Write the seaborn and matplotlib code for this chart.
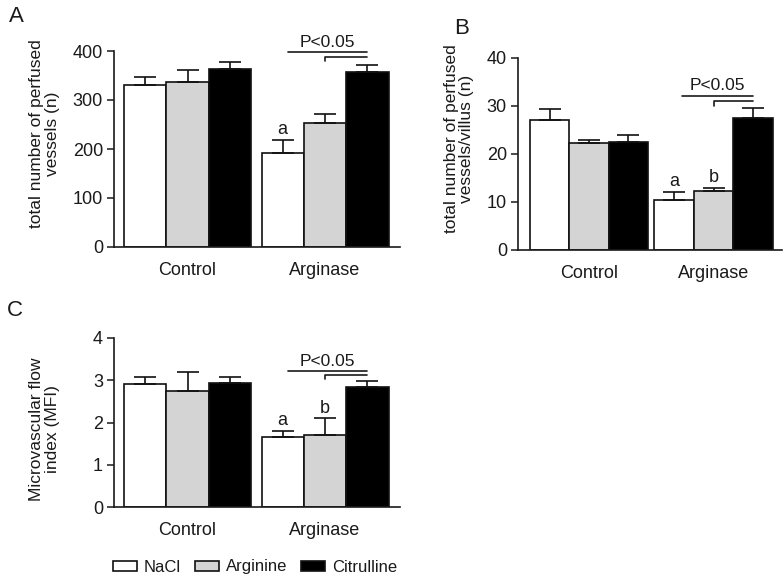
import matplotlib
matplotlib.use("Agg")
import matplotlib.pyplot as plt
import seaborn as sns
import pandas as pd
import numpy as np

groups = ["Control", "Arginase"]
treatments = ["NaCl", "Arginine", "Citrulline"]
colors = ["#ffffff", "#d4d4d4", "#000000"]

# Panel A: total number of perfused vessels (n)
a_mean_control = [331, 336, 363]
a_mean_arginase = [191, 254, 357]
a_sem_control = [15, 26, 15]
a_sem_arginase = [27, 17, 15]

# Panel B: total number of perfused vessels/villus (n)
b_mean_control = [27.1, 22.2, 22.4]
b_mean_arginase = [10.5, 12.2, 27.4]
b_sem_control = [2.3, 0.7, 1.5]
b_sem_arginase = [1.6, 0.8, 2.2]

# Panel C: Microvascular flow index (MFI)
c_mean_control = [2.92, 2.75, 2.93]
c_mean_arginase = [1.66, 1.70, 2.84]
c_sem_control = [0.15, 0.44, 0.14]
c_sem_arginase = [0.15, 0.40, 0.15]

a_ticks = [0, 100, 200, 300, 400]
b_ticks = [0, 10, 20, 30, 40]
c_ticks = [0, 1, 2, 3, 4]

sns.set_style("ticks")
plt.rcParams["font.family"] = ["Liberation Sans", "DejaVu Sans"]
plt.rcParams["text.color"] = "#1a1a1a"
plt.rcParams["axes.labelcolor"] = "#1a1a1a"
plt.rcParams["xtick.color"] = "#1a1a1a"
plt.rcParams["ytick.color"] = "#1a1a1a"

W, H = 783, 577
fig = plt.figure(figsize=(W / 100, H / 100), dpi=100)


def px_axes(l, r, b, t):
    return fig.add_axes([l / W, 1 - b / H, (r - l) / W, (b - t) / H])


def make_df(mc, ma, sc, sa):
    rows = []
    for g, m, s in (("Control", mc, sc), ("Arginase", ma, sa)):
        for t, mv, sv in zip(treatments, m, s):
            rows.append({"group": g, "treatment": t, "mean": mv, "sem": sv})
    return pd.DataFrame(rows)


def draw_panel(ax, df, ticks, ylabel, xlim, width, labelx, labely,
               letters, sig, legend=False):
    sns.barplot(data=df, x="group", y="mean", hue="treatment",
                order=groups, hue_order=treatments, palette=colors,
                edgecolor="#111111", linewidth=1.2, width=width, gap=0,
                errorbar=None, ax=ax, legend=legend, saturation=1)
    centers = {}
    for cont, t in zip(ax.containers, treatments):
        for patch, g in zip(cont.patches, groups):
            cx = patch.get_x() + patch.get_width() / 2
            h = patch.get_height()
            centers[(g, t)] = (cx, h)
            s = df[(df.group == g) & (df.treatment == t)]["sem"].iloc[0]
            ax.errorbar([cx], [h], yerr=[[0], [s]], fmt="none",
                        ecolor="#111111", elinewidth=1.2, capsize=8,
                        capthick=1.2, zorder=1)
    ax.set_ylim(ticks[0], ticks[-1])
    ax.set_yticks(ticks)
    ax.set_xlim(*xlim)
    ax.tick_params(axis="y", labelsize=13, length=5, width=1.1, pad=3)
    ax.tick_params(axis="x", labelsize=13, length=0, pad=11)
    ax.set_xlabel("")
    ax.set_ylabel(ylabel, fontsize=12.5, linespacing=1.05)
    ax.yaxis.set_label_coords(labelx, labely)
    for sp in ("top", "right"):
        ax.spines[sp].set_visible(False)
    for sp in ("left", "bottom"):
        ax.spines[sp].set_linewidth(1.2)
        ax.spines[sp].set_color("#1a1a1a")
    for (t, txt, yv) in letters:
        cx, _ = centers[("Arginase", t)]
        ax.text(cx, yv, txt, ha="center", va="center", fontsize=13)
    long_y, short_y, tick_y, text_y, off = sig
    x0 = centers[("Arginase", "NaCl")][0] + off
    x1 = centers[("Arginase", "Arginine")][0]
    x2 = centers[("Arginase", "Citrulline")][0]
    ax.plot([x0, x2], [long_y, long_y], color="#1a1a1a", lw=1.2,
            clip_on=False)
    ax.plot([x1, x1, x2], [tick_y, short_y, short_y], color="#1a1a1a",
            lw=1.2, clip_on=False)
    ax.text((x0 + x2) / 2, text_y, "P<0.05", ha="center", va="center",
            fontsize=12.5)


axA = px_axes(114, 400, 247, 51)
draw_panel(axA, make_df(a_mean_control, a_mean_arginase, a_sem_control,
                        a_sem_arginase),
           a_ticks, "total number of perfused\nvessels (n)",
           (-0.5345, 1.545), 0.924, -0.19, 0.58,
           [("NaCl", "a", 239)], (398, 388, 380, 418, 0.04))

axB = px_axes(518, 782, 250, 58)
draw_panel(axB, make_df(b_mean_control, b_mean_arginase, b_sem_control,
                        b_sem_arginase),
           b_ticks, "total number of perfused\nvessels/villus (n)",
           (-0.570, 1.550), 0.95, -0.165, 0.58,
           [("NaCl", "a", 14.3), ("Arginine", "b", 15.2)],
           (32.0, 31.0, 30.1, 34.2, 0.06))

axC = px_axes(114, 400, 507, 338)
draw_panel(axC, make_df(c_mean_control, c_mean_arginase, c_sem_control,
                        c_sem_arginase),
           c_ticks, "Microvascular flow\nindex (MFI)",
           (-0.5345, 1.545), 0.924, -0.19, 0.46,
           [("NaCl", "a", 2.04), ("Arginine", "b", 2.34)],
           (3.22, 3.13, 3.04, 3.45, 0.04), legend=True)

handles, labels = axC.get_legend_handles_labels()
axC.get_legend().remove()
fig.legend(handles, labels, loc="center", bbox_to_anchor=(255 / W, 1 - 567 / H),
           ncol=3, frameon=False, fontsize=12, handlelength=1.45,
           handleheight=0.55, handletextpad=0.4, columnspacing=0.85)

fig.text(16 / W, 1 - 16 / H, "A", fontsize=16, ha="center", va="center")
fig.text(462 / W, 1 - 28 / H, "B", fontsize=16, ha="center", va="center")
fig.text(15 / W, 1 - 310 / H, "C", fontsize=16, ha="center", va="center")

fig.savefig("out.png", dpi=100)
